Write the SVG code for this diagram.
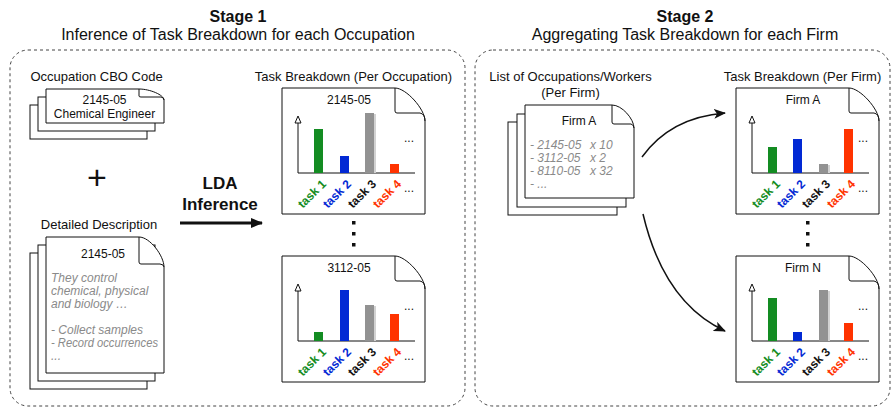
<svg xmlns="http://www.w3.org/2000/svg" width="893" height="409" viewBox="0 0 893 409">
  <style>
    text { font-family: "Liberation Sans", Arial, Helvetica, sans-serif; fill: #111; }
    .h1 { font-size: 16px; font-weight: bold; text-anchor: middle; }
    .h2 { font-size: 16px; text-anchor: middle; }
    .cap { font-size: 13px; text-anchor: middle; }
    .t12 { font-size: 12px; text-anchor: middle; }
    .note { font-size: 12px; font-style: italic; fill: #8a8a8a; }
    .dots { font-size: 12px; }
    .task { font-size: 12px; font-weight: bold; text-anchor: middle; }
    .lda { font-size: 17px; font-weight: bold; text-anchor: middle; }
    .stage { fill: none; stroke: #444; stroke-width: 1; stroke-dasharray: 3 3; }
    .doc { fill: #fff; stroke: #111; stroke-width: 1; }
    .fold { fill: none; stroke: #111; stroke-width: 1; }
    .axis { stroke: #111; stroke-width: 1; fill: none; }
    .tip { fill: #fff; stroke: #111; stroke-width: 1; }
    .g { fill: #138c22; } .b { fill: #0229d4; } .k { fill: #929292; } .r { fill: #ff3300; }
    .sh { fill: #d2d2d2; }
    .tg { fill: #138c22; } .tb { fill: #0229d4; } .tk { fill: #111; } .tr { fill: #ff3300; }
    .edge { fill: none; stroke: #111; stroke-width: 1.5; }
    .pt { fill: #111; }
  </style>
  <defs>
    <!-- page with a curled top-right corner, 143 x 126 -->
    <g id="page">
      <path class="doc" d="M0,0 H113 C124,0 143,21 143,33 V126 H0 Z"/>
      <path class="fold" d="M113,0 V23 Q113,25 115,25 H138 Q143,26 143,33"/>
    </g>
    <!-- empty chart frame: y axis with open arrow tip and x axis -->
    <g id="chart">
      <path class="axis" d="M16,35 V85 H133"/>
      <path class="tip" d="M16,28 L19,35 L13,35 Z"/>
      <text class="dots" x="122" y="54">...</text>
      <text class="dots" x="122" y="104">...</text>
    </g>
    <marker id="arrow" viewBox="0 0 12 10" refX="11" refY="5" markerWidth="12" markerHeight="10" markerUnits="userSpaceOnUse" orient="auto">
      <path d="M0,0 L12,5 L0,10 L3,5 Z" fill="#111"/>
    </marker>
    <marker id="arrowBig" viewBox="0 0 12 10" refX="11" refY="5" markerWidth="12" markerHeight="11" markerUnits="userSpaceOnUse" orient="auto">
      <path d="M0,0 L12,5 L0,10 Z" fill="#111"/>
    </marker>
  </defs>

  <!-- stage frames and headings -->
  <g id="stage1">
    <rect class="stage" x="10" y="50" width="455" height="356" rx="18"/>
    <text class="h1" x="238" y="22">Stage 1</text>
    <text class="h2" x="238" y="40">Inference of Task Breakdown for each Occupation</text>
  </g>
  <g id="stage2">
    <rect class="stage" x="475" y="50" width="415" height="356" rx="18"/>
    <text class="h1" x="685" y="22">Stage 2</text>
    <text class="h2" x="685" y="40">Aggregating Task Breakdown for each Firm</text>
  </g>

  <!-- occupation code stack -->
  <g id="cbo-code">
    <text class="cap" x="96.5" y="81">Occupation CBO Code</text>
    <rect class="doc" x="30" y="105" width="117" height="34"/>
    <rect class="doc" x="38" y="97" width="117" height="34"/>
    <path class="doc" d="M46,89 H139 C150,89 164,95 164,100 V123 H46 Z"/>
    <path class="fold" d="M139,89 V96 Q139,97 141,97 H161 Q164,97.5 164,100"/>
    <text class="t12" x="104.5" y="103.5">2145-05</text>
    <text class="t12" x="104.5" y="117.5">Chemical Engineer</text>
  </g>

  <g id="plus">
    <text x="97" y="189" style="font-size:34px; text-anchor:middle; font-weight:300;">+</text>
  </g>

  <!-- detailed description stack -->
  <g id="description">
    <text class="cap" x="99" y="229">Detailed Description</text>
    <rect class="doc" x="30" y="253" width="117" height="136"/>
    <rect class="doc" x="38" y="245" width="117" height="136"/>
    <path class="doc" d="M46,237 H139 C150,237 164,256 164,267 V373 H46 Z"/>
    <path class="fold" d="M139,237 V262 Q139,264 141,264 H160 Q164,264.5 164,267"/>
    <text class="t12" x="103" y="258">2145-05</text>
    <text class="note" x="51" y="282">They control</text>
    <text class="note" x="51" y="295">chemical, physical</text>
    <text class="note" x="51" y="308">and biology …</text>
    <text class="note" x="51" y="334">- Collect samples</text>
    <text class="note" x="51" y="347" textLength="107" lengthAdjust="spacingAndGlyphs">- Record occurrences</text>
    <text class="note" x="51" y="360">...</text>
  </g>

  <g id="lda-label">
    <text class="lda" x="220" y="189">LDA</text>
    <text class="lda" x="220" y="210">Inference</text>
  </g>

  <!-- per-occupation breakdowns -->
  <text class="cap" x="353.5" y="81">Task Breakdown (Per Occupation)</text>
  <g id="occ-2145-05">
    <use href="#page" x="282" y="88"/>
    <use href="#chart" x="282" y="88"/>
    <text class="t12" x="349" y="104">2145-05</text>
    <rect class="g" x="314" y="129" width="9" height="44"/>
    <rect class="b" x="340" y="156" width="9" height="17"/>
    <rect class="sh" x="366" y="114" width="10" height="59"/>
    <rect class="k" x="365" y="113" width="9" height="60"/>
    <rect class="r" x="390" y="164" width="9" height="9"/>
    <text class="task tg" x="312" y="198" transform="rotate(-45 312 194)">task 1</text>
    <text class="task tb" x="337" y="198" transform="rotate(-45 337 194)">task 2</text>
    <text class="task tk" x="362" y="198" transform="rotate(-45 362 194)">task 3</text>
    <text class="task tr" x="387" y="198" transform="rotate(-45 387 194)">task 4</text>
  </g>
  <g id="occ-more">
    <rect class="pt" x="352" y="221" width="3.5" height="3.5"/>
    <rect class="pt" x="352" y="232" width="3.5" height="3.5"/>
    <rect class="pt" x="352" y="243" width="3.5" height="3.5"/>
  </g>
  <g id="occ-3112-05">
    <use href="#page" x="282" y="256"/>
    <use href="#chart" x="282" y="256"/>
    <text class="t12" x="349" y="272">3112-05</text>
    <rect class="g" x="314" y="332" width="9" height="9"/>
    <rect class="b" x="340" y="290" width="9" height="51"/>
    <rect class="sh" x="366" y="306" width="10" height="35"/>
    <rect class="k" x="365" y="305" width="9" height="36"/>
    <rect class="r" x="390" y="314" width="9" height="27"/>
    <text class="task tg" x="312" y="366" transform="rotate(-45 312 362)">task 1</text>
    <text class="task tb" x="337" y="366" transform="rotate(-45 337 362)">task 2</text>
    <text class="task tk" x="362" y="366" transform="rotate(-45 362 362)">task 3</text>
    <text class="task tr" x="387" y="366" transform="rotate(-45 387 362)">task 4</text>
  </g>

  <!-- firm worker list stack -->
  <g id="firm-list">
    <text class="cap" x="570.5" y="81">List of Occupations/Workers</text>
    <text class="cap" x="570.5" y="97">(Per Firm)</text>
    <rect class="doc" x="508" y="122" width="109" height="93"/>
    <rect class="doc" x="517" y="114" width="109" height="93"/>
    <path class="doc" d="M525,105 H612 C622,105 634,119 634,128 V198 H525 Z"/>
    <path class="fold" d="M612,105 V122 Q612,124 614,124 H631 Q634,125 634,128"/>
    <text class="t12" x="579" y="125">Firm A</text>
    <text class="note" x="530" y="149">- 2145-05</text><text class="note" x="590" y="149">x 10</text>
    <text class="note" x="530" y="162">- 3112-05</text><text class="note" x="590" y="162">x 2</text>
    <text class="note" x="530" y="175">- 8110-05</text><text class="note" x="590" y="175">x 32</text>
    <text class="note" x="530" y="188">- ...</text>
  </g>

  <!-- per-firm breakdowns -->
  <text class="cap" x="802.5" y="81">Task Breakdown (Per Firm)</text>
  <g id="firm-a">
    <use href="#page" x="736" y="88"/>
    <use href="#chart" x="736" y="88"/>
    <text class="t12" x="803" y="104">Firm A</text>
    <rect class="g" x="768" y="147" width="9" height="26"/>
    <rect class="b" x="793" y="139" width="9" height="34"/>
    <rect class="sh" x="820" y="165" width="10" height="8"/>
    <rect class="k" x="819" y="164" width="9" height="9"/>
    <rect class="r" x="844" y="129" width="9" height="44"/>
    <text class="task tg" x="766" y="198" transform="rotate(-45 766 194)">task 1</text>
    <text class="task tb" x="791" y="198" transform="rotate(-45 791 194)">task 2</text>
    <text class="task tk" x="816" y="198" transform="rotate(-45 816 194)">task 3</text>
    <text class="task tr" x="841" y="198" transform="rotate(-45 841 194)">task 4</text>
  </g>
  <g id="firm-more">
    <rect class="pt" x="806" y="221" width="3.5" height="3.5"/>
    <rect class="pt" x="806" y="232" width="3.5" height="3.5"/>
    <rect class="pt" x="806" y="243" width="3.5" height="3.5"/>
  </g>
  <g id="firm-n">
    <use href="#page" x="736" y="256"/>
    <use href="#chart" x="736" y="256"/>
    <text class="t12" x="803" y="272">Firm N</text>
    <rect class="g" x="768" y="298" width="9" height="43"/>
    <rect class="b" x="793" y="332" width="9" height="9"/>
    <rect class="sh" x="820" y="291" width="10" height="50"/>
    <rect class="k" x="819" y="290" width="9" height="51"/>
    <rect class="r" x="844" y="323" width="9" height="18"/>
    <text class="task tg" x="766" y="366" transform="rotate(-45 766 362)">task 1</text>
    <text class="task tb" x="791" y="366" transform="rotate(-45 791 362)">task 2</text>
    <text class="task tk" x="816" y="366" transform="rotate(-45 816 362)">task 3</text>
    <text class="task tr" x="841" y="366" transform="rotate(-45 841 362)">task 4</text>
  </g>

  <!-- connectors -->
  <g id="connectors">
    <path class="edge" d="M180,223 H262" style="stroke-width:3" marker-end="url(#arrowBig)"/>
    <path class="edge" d="M642,157 C660,132 688,116 725,113" marker-end="url(#arrow)"/>
    <path class="edge" d="M643,214 C655,265 680,310 725,331" marker-end="url(#arrow)"/>
  </g>
</svg>
